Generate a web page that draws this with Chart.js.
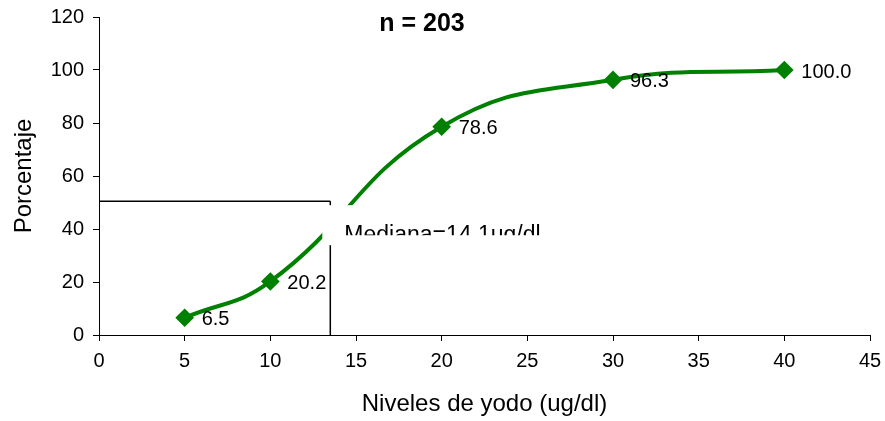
<html>
<head></head>
<body style="margin:0;background:#fff">
<script src="https://cdn.jsdelivr.net/npm/chart.js@4/dist/chart.umd.min.js"></script>
<div><canvas id="myChart" width="885" height="421"></canvas></div>
<script>
// data
const levels = [5, 10, 20, 30, 40];
const percents = [6.5, 20.2, 78.6, 96.3, 100.0];
const pointLabels = ['6.5', '20.2', '78.6', '96.3', '100.0'];
const medianX = 13.5;
const medianY = 50.5;
const medianText = 'Mediana=14.1ug/dl';
const titleText = 'n = 203';

const green = '#008000';
const font = 'Liberation Sans, Arial, sans-serif';

// median guide lines, white text box, point labels and the "n = 203" title
const extras = {
    id: 'extras',
    afterDatasetsDraw(chart) {
        const c = chart.ctx;
        const xs = chart.scales.x, ys = chart.scales.y;
        const mx = xs.getPixelForValue(medianX);
        const my = ys.getPixelForValue(medianY);
        c.save();
        c.strokeStyle = '#000';
        c.lineWidth = 1.5;
        c.beginPath();
        c.moveTo(xs.getPixelForValue(0), my);
        c.lineTo(mx, my);
        c.moveTo(mx, my);
        c.lineTo(mx, ys.getPixelForValue(0));
        c.stroke();

        // white label box that hides part of the curve
        c.fillStyle = '#fff';
        c.fillRect(mx - 8, my + 4, 235, 40);
        c.beginPath();
        c.rect(mx - 8, my + 4, 235, 30);
        c.clip();
        c.fillStyle = '#000';
        c.font = '23px ' + font;
        c.textBaseline = 'alphabetic';
        c.fillText(medianText, mx + 14, my + 41);
        c.restore();

        c.save();
        c.fillStyle = '#000';
        c.font = '20px ' + font;
        c.textBaseline = 'middle';
        const meta = chart.getDatasetMeta(0);
        meta.data.forEach((pt, i) => {
            c.fillText(pointLabels[i], pt.x + 17, pt.y + 2);
        });
        c.font = 'bold 25px ' + font;
        c.textAlign = 'center';
        c.fillText(titleText, 422, 24);
        c.restore();
    }
};

const ctx = document.getElementById('myChart').getContext('2d');
const myChart = new Chart(ctx, {
    type: 'scatter',
    data: {
        datasets: [{
            data: levels.map((x, i) => ({x: x, y: percents[i]})),
            showLine: true,
            borderColor: green,
            backgroundColor: green,
            borderWidth: 4,
            tension: 0.45,
            pointStyle: 'rectRot',
            pointRadius: 6.5,
            pointHoverRadius: 6.5
        }]
    },
    options: {
        responsive: false,
        animation: false,
        layout: {padding: {left: 4, right: 15, top: 17, bottom: 2}},
        plugins: {legend: {display: false}, tooltip: {enabled: false}},
        scales: {
            x: {
                type: 'linear', min: 0, max: 45,
                ticks: {stepSize: 5, color: '#000', font: {size: 20, family: font}, padding: 8},
                grid: {display: true, drawOnChartArea: false, color: '#000', tickLength: 6},
                border: {color: '#000', width: 1},
                title: {display: true, text: 'Niveles de yodo (ug/dl)', color: '#000',
                        font: {size: 24, family: font}, padding: {top: 12, bottom: 0}},
                afterFit: s => { s.height = 84; s.paddingLeft = 0; s.paddingRight = 0; }
            },
            y: {
                min: 0, max: 120,
                ticks: {stepSize: 20, color: '#000', font: {size: 20, family: font}, padding: 9},
                grid: {display: true, drawOnChartArea: false, color: '#000', tickLength: 6},
                border: {color: '#000', width: 1},
                title: {display: true, text: 'Porcentaje', color: '#000',
                        font: {size: 24, family: font}, padding: {top: 6, bottom: 0}},
                afterFit: s => { s.width = 95; s.paddingTop = 0; s.paddingBottom = 0; }
            }
        }
    },
    plugins: [extras]
});
</script>
</body>
</html>
